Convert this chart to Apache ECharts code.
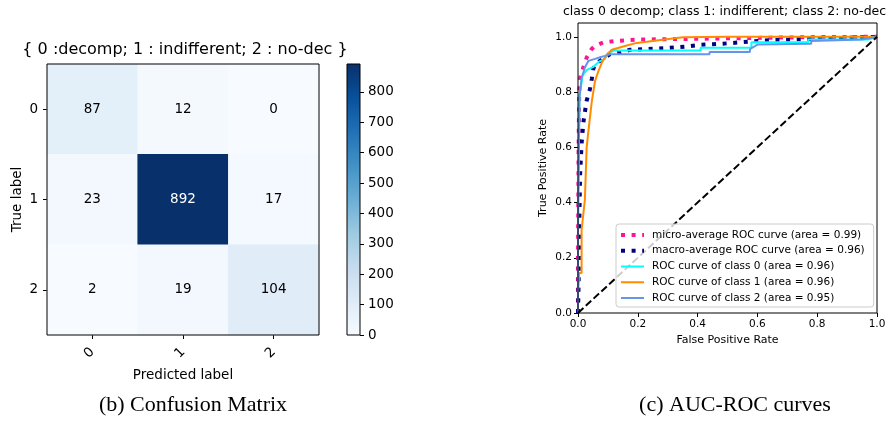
<!DOCTYPE html>
<html>
<head>
<meta charset="utf-8">
<script src="https://cdn.jsdelivr.net/npm/echarts@6/dist/echarts.min.js"></script>
<style>
  html, body { margin: 0; padding: 0; background: #ffffff; }
  #chart { width: 896px; height: 423px; }
</style>
</head>
<body>
<div id="chart"></div>
<script>
// Confusion matrix: rows = true label, columns = predicted label
const cmClasses = ['0', '1', '2'];
const cmCounts = [
  [87, 12, 0],
  [23, 892, 17],
  [2, 19, 104]
];
const colorbarTicks = [0, 100, 200, 300, 400, 500, 600, 700, 800];

// ROC curves as [false positive rate, true positive rate] vertices
const rocTicks = [0, 0.2, 0.4, 0.6, 0.8, 1.0];
const rocNames = [
  'micro-average ROC curve (area = 0.99)',
  'macro-average ROC curve (area = 0.96)',
  'ROC curve of class 0 (area = 0.96)',
  'ROC curve of class 1 (area = 0.96)',
  'ROC curve of class 2 (area = 0.95)'
];
const rocMicro = [
  [0, 0], [0, 0.2], [0.002, 0.6], [0.004, 0.8], [0.007, 0.85], [0.018, 0.89],
  [0.029, 0.925], [0.045, 0.955], [0.057, 0.967], [0.085, 0.98], [0.124, 0.985],
  [0.2, 0.99], [0.4, 0.993], [0.6, 0.996], [0.8, 0.999], [1, 1]
];
const rocMacro = [
  [0, 0], [0.002, 0.1], [0.004, 0.3], [0.007, 0.5], [0.012, 0.613], [0.018, 0.69],
  [0.023, 0.727], [0.029, 0.769], [0.04, 0.811], [0.046, 0.847], [0.051, 0.883],
  [0.057, 0.901], [0.107, 0.937], [0.14, 0.943], [0.174, 0.953], [0.213, 0.955],
  [0.29, 0.959], [0.363, 0.965], [0.408, 0.971], [0.452, 0.973], [0.508, 0.977],
  [0.58, 0.983], [0.625, 0.987], [0.676, 0.989], [0.8, 0.993], [1, 1]
];
const rocClass0 = [
  [0, 0], [0, 0.35], [0.003, 0.6], [0.005, 0.79], [0.01, 0.82], [0.015, 0.86],
  [0.03, 0.88], [0.05, 0.89], [0.07, 0.91], [0.09, 0.92], [0.1, 0.94], [0.12, 0.95],
  [0.41, 0.95], [0.41, 0.96], [0.58, 0.96], [0.58, 0.98], [0.77, 0.98], [0.77, 0.99],
  [0.97, 0.99], [1, 1]
];
const rocClass1 = [
  [0, 0], [0, 0.07], [0.004, 0.145], [0.012, 0.145], [0.012, 0.3], [0.023, 0.41],
  [0.029, 0.6], [0.035, 0.66], [0.046, 0.765], [0.057, 0.84], [0.068, 0.875],
  [0.079, 0.905], [0.096, 0.935], [0.113, 0.953], [0.157, 0.967], [0.196, 0.978],
  [0.23, 0.982], [0.296, 0.991], [0.351, 0.998], [0.5, 1], [1, 1]
];
const rocClass2 = [
  [0, 0], [0, 0.3], [0.003, 0.6], [0.005, 0.78], [0.007, 0.8], [0.012, 0.85],
  [0.023, 0.889], [0.035, 0.913], [0.057, 0.92], [0.074, 0.926], [0.09, 0.931],
  [0.107, 0.937], [0.44, 0.937], [0.44, 0.945], [0.575, 0.945], [0.575, 0.955],
  [0.59, 0.965], [0.6, 0.972], [0.78, 0.975], [0.78, 0.985], [0.95, 0.99], [1, 1]
];
const rocChance = [[0, 0], [1, 1]];

// matplotlib "Blues" colormap stops
const blues = ['#f7fbff', '#deebf7', '#c6dbef', '#9ecae1', '#6baed6', '#4292c6', '#2171b5', '#08519c', '#08306b'];

const FONT = 'DejaVu Sans';
const cmMax = Math.max(...cmCounts.flat());

const heatData = [];
cmCounts.forEach((row, i) => {
  row.forEach((v, j) => {
    heatData.push({
      value: [j, i, v],
      label: { color: v > cmMax / 2 ? '#ffffff' : '#000000' }
    });
  });
});

const gradientStops = blues.map((c, k) => ({ offset: k / (blues.length - 1), color: c }));

const chart = echarts.init(document.getElementById('chart'), null, { renderer: 'canvas' });

const tickStyle = { show: true, inside: false, length: 4, lineStyle: { color: '#000', width: 1 } };

const dotted = [4, 6.6];
const dashed = [7.4, 3.2];
const rocWidths = [4, 4, 2, 2, 2];

chart.setOption({
  animation: false,
  backgroundColor: '#ffffff',
  textStyle: { fontFamily: FONT, color: '#000' },
  grid: [
    { left: 47, top: 64, width: 272, height: 271, show: true, z: 10,
      backgroundColor: 'transparent', borderColor: '#000', borderWidth: 1, outerBoundsMode: 'none' },
    { left: 347, top: 64, width: 13, height: 271, show: true, z: 10,
      backgroundColor: 'transparent', borderColor: '#000', borderWidth: 1, outerBoundsMode: 'none' },
    { left: 578, top: 23, width: 299, height: 290, show: true, z: 10,
      backgroundColor: 'transparent', borderColor: '#000', borderWidth: 1, outerBoundsMode: 'none' }
  ],
  xAxis: [
    { gridIndex: 0, type: 'category', data: cmClasses, position: 'bottom',
      axisLine: { show: false }, splitLine: { show: false }, splitArea: { show: false },
      axisTick: Object.assign({ alignWithLabel: true }, tickStyle),
      axisLabel: { rotate: 45, margin: 15, fontSize: 13.5, color: '#000', fontFamily: FONT },
      name: 'Predicted label', nameLocation: 'middle', nameGap: 29,
      nameTextStyle: { fontSize: 13.5, color: '#000', fontFamily: FONT } },
    { gridIndex: 1, type: 'category', data: [''], show: false },
    { gridIndex: 2, type: 'value', min: 0, max: 1, interval: 0.2,
      axisLine: { show: false }, splitLine: { show: false },
      axisTick: tickStyle,
      axisLabel: { margin: 6, fontSize: 10.5, color: '#000', fontFamily: FONT,
        formatter: v => v.toFixed(1) },
      name: 'False Positive Rate', nameLocation: 'middle', nameGap: 21,
      nameTextStyle: { fontSize: 11, color: '#000', fontFamily: FONT } }
  ],
  yAxis: [
    { gridIndex: 0, type: 'category', data: cmClasses, inverse: true,
      axisLine: { show: false }, splitLine: { show: false }, splitArea: { show: false },
      axisTick: Object.assign({ alignWithLabel: true }, tickStyle),
      axisLabel: { margin: 9, fontSize: 13.5, color: '#000', fontFamily: FONT },
      name: 'True label', nameLocation: 'middle', nameGap: 23, nameRotate: 90,
      nameTextStyle: { fontSize: 13.5, color: '#000', fontFamily: FONT } },
    { gridIndex: 1, type: 'value', min: 0, max: cmMax, position: 'right',
      axisLine: { show: false }, splitLine: { show: false },
      axisTick: Object.assign({ customValues: colorbarTicks }, tickStyle),
      axisLabel: { customValues: colorbarTicks, margin: 8, fontSize: 13.5, color: '#000', fontFamily: FONT } },
    { gridIndex: 2, type: 'value', min: 0, max: 1.05,
      axisLine: { show: false }, splitLine: { show: false },
      axisTick: Object.assign({ customValues: rocTicks }, tickStyle),
      axisLabel: { customValues: rocTicks, margin: 6, fontSize: 10.5, color: '#000', fontFamily: FONT,
        formatter: v => v.toFixed(1) },
      name: 'True Positive Rate', nameLocation: 'middle', nameGap: 29, nameRotate: 90,
      nameTextStyle: { fontSize: 11, color: '#000', fontFamily: FONT } }
  ],
  visualMap: {
    type: 'continuous', show: false, seriesIndex: 0, dimension: 2,
    min: 0, max: cmMax, inRange: { color: blues }
  },
  legend: {
    data: rocNames.map((name, k) => ({ name, lineStyle: { width: rocWidths[k] } })),
    orient: 'vertical',
    left: 616, top: 224,
    itemWidth: 23, itemHeight: 10, itemGap: 3.75,
    padding: [5, 9, 3, 3],
    selectedMode: false,
    itemStyle: { opacity: 0 },
    backgroundColor: 'rgba(255,255,255,0.8)',
    borderColor: '#cccccc', borderWidth: 1, borderRadius: 3,
    textStyle: { fontSize: 10.5, color: '#000', fontFamily: FONT, lineHeight: 12, padding: [0, 0, 0, 3] }
  },
  graphic: [
    { type: 'text', x: 185, y: 50,
      style: { text: '{ 0 :decomp; 1 : indifferent; 2 : no-dec }', fontSize: 16, fontFamily: FONT,
        fill: '#000', align: 'center', verticalAlign: 'middle' } },
    { type: 'text', x: 563, y: 12,
      style: { text: 'class 0 decomp; class 1: indifferent; class 2: no-dec', fontSize: 12.5, fontFamily: FONT,
        fill: '#000', align: 'left', verticalAlign: 'middle' } },
    { type: 'text', x: 193, y: 405,
      style: { text: '(b) Confusion Matrix', fontSize: 22, fontFamily: 'Liberation Serif',
        fill: '#000', align: 'center', verticalAlign: 'middle' } },
    { type: 'text', x: 735, y: 405,
      style: { text: '(c) AUC-ROC curves', fontSize: 22, fontFamily: 'Liberation Serif',
        fill: '#000', align: 'center', verticalAlign: 'middle' } }
  ],
  series: [
    { type: 'heatmap', xAxisIndex: 0, yAxisIndex: 0, data: heatData,
      itemStyle: { borderWidth: 0 },
      label: { show: true, fontSize: 13.5, fontFamily: FONT, formatter: p => String(p.value[2]) },
      emphasis: { disabled: true } },
    { type: 'bar', xAxisIndex: 1, yAxisIndex: 1, data: [cmMax], barWidth: '100%', silent: true,
      itemStyle: { color: new echarts.graphic.LinearGradient(0, 1, 0, 0, gradientStops) } },
    { name: rocNames[0], type: 'line', xAxisIndex: 2, yAxisIndex: 2, data: rocMicro,
      showSymbol: false, symbol: 'none', color: '#ff1493',
      lineStyle: { color: '#ff1493', width: 4, type: dotted, cap: 'butt' } },
    { name: rocNames[1], type: 'line', xAxisIndex: 2, yAxisIndex: 2, data: rocMacro,
      showSymbol: false, symbol: 'none', color: '#000080',
      lineStyle: { color: '#000080', width: 4, type: dotted, cap: 'butt' } },
    { name: rocNames[2], type: 'line', xAxisIndex: 2, yAxisIndex: 2, data: rocClass0,
      showSymbol: false, symbol: 'none', color: '#00ffff',
      lineStyle: { color: '#00ffff', width: 2 } },
    { name: rocNames[3], type: 'line', xAxisIndex: 2, yAxisIndex: 2, data: rocClass1,
      showSymbol: false, symbol: 'none', color: '#ff8c00',
      lineStyle: { color: '#ff8c00', width: 2 } },
    { name: rocNames[4], type: 'line', xAxisIndex: 2, yAxisIndex: 2, data: rocClass2,
      showSymbol: false, symbol: 'none', color: '#6495ed',
      lineStyle: { color: '#6495ed', width: 2 } },
    { name: 'chance', type: 'line', xAxisIndex: 2, yAxisIndex: 2, data: rocChance,
      showSymbol: false, symbol: 'none', color: '#000',
      lineStyle: { color: '#000', width: 2, type: dashed, cap: 'butt' } }
  ]
});
</script>
</body>
</html>
